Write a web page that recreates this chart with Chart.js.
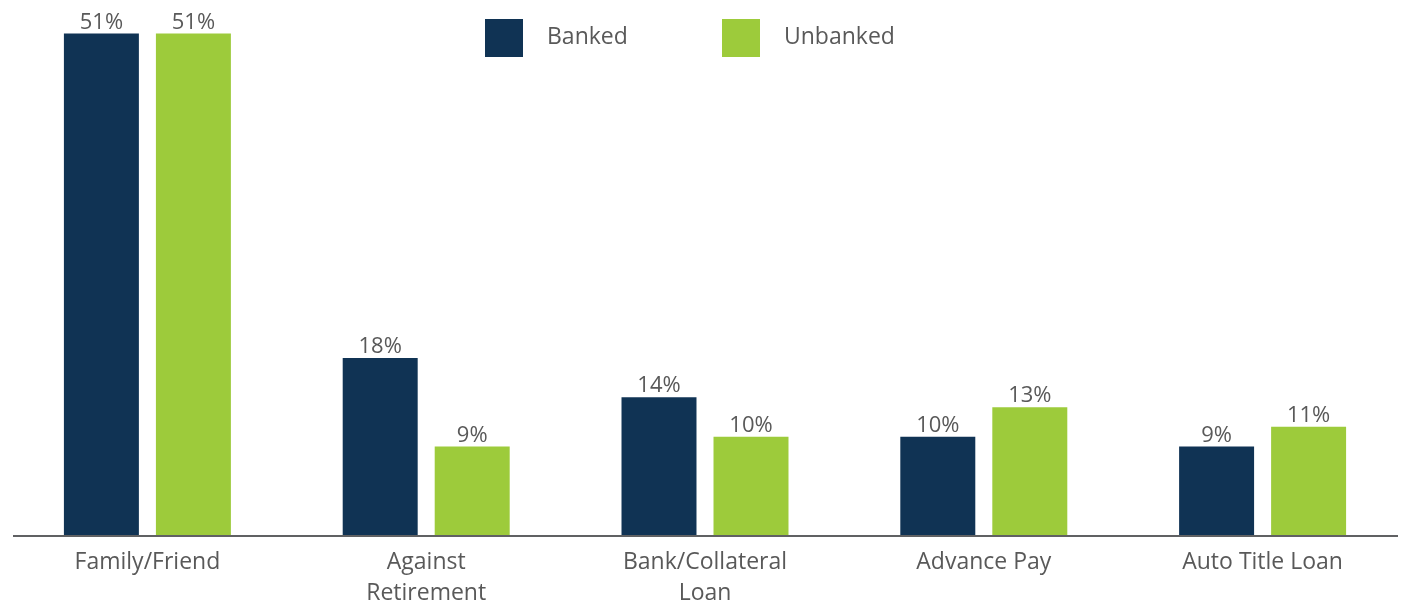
<!DOCTYPE html>
<html>
<head>
<meta charset="utf-8">
<script src="https://cdn.jsdelivr.net/npm/chart.js@4"></script>
<style>
  html, body { margin: 0; padding: 0; background: #fff; }
  #wrap { width: 1407px; height: 605px; position: relative; }
</style>
</head>
<body>
<div id="wrap"><canvas id="chart" width="1407" height="605"></canvas></div>
<script>
const categories = ["Family/Friend", ["Against", "Retirement"], ["Bank/Collateral", "Loan"], "Advance Pay", "Auto Title Loan"];
const banked = [51, 18, 14, 10, 9];
const unbanked = [51, 9, 10, 13, 11];
const seriesNames = ["Banked", "Unbanked"];

const textColor = "#595959";
const fontFamily = "'Open Sans', sans-serif";

// value labels above each bar
const valueLabels = {
    id: "valueLabels",
    afterDatasetsDraw(chart) {
        const ctx = chart.ctx;
        ctx.save();
        ctx.fillStyle = textColor;
        ctx.font = "22px " + fontFamily;
        ctx.textAlign = "center";
        ctx.textBaseline = "alphabetic";
        chart.data.datasets.forEach((ds, i) => {
            chart.getDatasetMeta(i).data.forEach((bar, j) => {
                ctx.fillText(ds.data[j] + "%", bar.x, bar.y - 5);
            });
        });
        ctx.restore();
    }
};

// x axis line, a bit shorter than the plot area
const baseLine = {
    id: "baseLine",
    afterDatasetsDraw(chart) {
        const ctx = chart.ctx;
        const y = chart.scales.y.getPixelForValue(0);
        ctx.save();
        ctx.strokeStyle = "#606163";
        ctx.lineWidth = 2;
        ctx.beginPath();
        ctx.moveTo(13, y + 1);
        ctx.lineTo(1398, y + 1);
        ctx.stroke();
        ctx.restore();
    }
};

// legend drawn by hand so it can sit over the plot
const legendBoxes = {
    id: "legendBoxes",
    afterDraw(chart) {
        const ctx = chart.ctx;
        const xs = [485, 722];
        ctx.save();
        ctx.font = "23px " + fontFamily;
        ctx.textBaseline = "middle";
        ctx.textAlign = "left";
        chart.data.datasets.forEach((ds, i) => {
            ctx.fillStyle = ds.backgroundColor;
            ctx.fillRect(xs[i], 19, 38, 38);
            ctx.fillStyle = textColor;
            ctx.fillText(ds.label, xs[i] + 62, 37);
        });
        ctx.restore();
    }
};

new Chart(document.getElementById("chart"), {
    type: "bar",
    data: {
        labels: categories,
        datasets: [
            { label: seriesNames[0], data: banked, backgroundColor: "#103354" },
            { label: seriesNames[1], data: unbanked, backgroundColor: "#9dcb3b" }
        ]
    },
    options: {
        responsive: false,
        animation: false,
        devicePixelRatio: 1,
        layout: { padding: { top: 4, left: 8, right: 5, bottom: 0 } },
        categoryPercentage: 0.66,
        barPercentage: 0.815,
        plugins: {
            legend: { display: false },
            tooltip: { enabled: false }
        },
        scales: {
            x: {
                grid: { display: false },
                border: { display: false },
                ticks: {
                    color: textColor,
                    font: { family: fontFamily, size: 23, lineHeight: 1.35 },
                    padding: 4,
                    maxRotation: 0,
                    autoSkip: false
                },
                afterFit(scale) { scale.height = 70; }
            },
            y: {
                display: false,
                min: 0,
                max: 54
            }
        }
    },
    plugins: [baseLine, valueLabels, legendBoxes]
});
</script>
</body>
</html>
